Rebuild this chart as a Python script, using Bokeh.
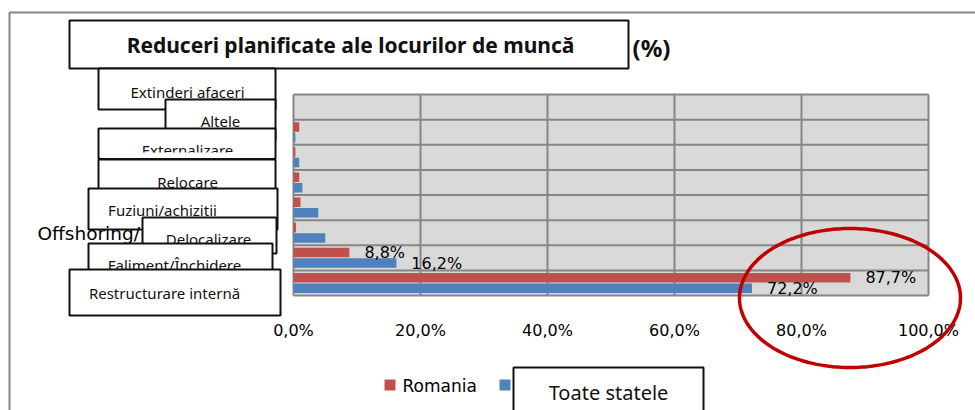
import numpy as np
from bokeh.plotting import figure
from bokeh.models import (Range1d, ColumnDataSource, Label, BoxAnnotation, PolyAnnotation)
from bokeh.transform import dodge
from bokeh.core.properties import value
from bokeh.embed import file_html
from bokeh.resources import INLINE

# ---------------- data ----------------
categories = ["Extinderi afaceri", "Altele", "Externalizare", "Relocare",
              "Fuziuni/achizitii", "Offshoring/Delocalizare", "Faliment/Închidere",
              "Restructurare internă"]
romania = [0.0, 0.9, 0.3, 0.9, 1.1, 0.4, 8.8, 87.7]
toate_statele = [0.0, 0.3, 0.9, 1.4, 3.9, 5.0, 16.2, 72.2]
series_names = ["Romania", "Toate statele"]
tick_values = [0, 20, 40, 60, 80, 100]
tick_labels = ["0,0%", "20,0%", "40,0%", "60,0%", "80,0%", "100,0%"]
title_text = "Reduceri planificate ale locurilor de muncă"
unit_text = "(%)"

# ---------------- style / layout ----------------
RED = "#C0504D"
BLUE = "#4F81BD"
GRID = "#868686"
INK = "#111111"
W, H = 975, 410
PLOT_L, PLOT_R, PLOT_T, PLOT_B = 293, 928, 94, 295   # plot area in canvas px
N = len(categories)
x_px = (PLOT_R - PLOT_L) / (tick_values[-1] - tick_values[0])
row_px = (PLOT_B - PLOT_T) / N

p = figure(width=W, height=H, output_backend="svg", toolbar_location=None,
           x_range=Range1d(tick_values[0] - PLOT_L / x_px, tick_values[-1] + (W - PLOT_R) / x_px),
           y_range=Range1d(-(H - PLOT_B) / row_px, N + PLOT_T / row_px),
           x_axis_location=None, y_axis_location=None, min_border=0)
p.background_fill_color = "white"
p.border_fill_color = "white"
p.outline_line_color = None
p.xgrid.visible = False
p.ygrid.visible = False

# plot area
p.quad(left=tick_values[0], right=tick_values[-1], bottom=0, top=N,
       fill_color="#D9D9D9", line_color=None)
p.segment(x0=tick_values, x1=tick_values, y0=[0] * len(tick_values), y1=[N] * len(tick_values),
          line_color=GRID, line_width=2)
bounds = list(range(0, N + 1))
p.segment(x0=[tick_values[0]] * len(bounds), x1=[tick_values[-1]] * len(bounds),
          y0=bounds, y1=bounds, line_color=GRID, line_width=2)

# axis tick labels
p.text(x=tick_values, y=[0] * len(tick_values), text=tick_labels, y_offset=35,
       text_align="center", text_baseline="middle",
       text_font=value("DejaVu Sans"), text_font_size="16px", text_color="black")

# bars
ycenter = [N - i - 0.5 for i in range(N)]
src = ColumnDataSource(dict(cat=categories, yc=ycenter, ro=romania, ts=toate_statele))
p.hbar(y=dodge("yc", 0.21), left=0, right="ro", height=0.38,
       source=src, fill_color=RED, line_color=None)
p.hbar(y=dodge("yc", -0.21), left=0, right="ts", height=0.38,
       source=src, fill_color=BLUE, line_color=None)

def fmt(v):
    return f"{v:.1f}".replace(".", ",") + "%"

for vals, off in ((romania, 0.21), (toate_statele, -0.21)):
    keep = [i for i, v in enumerate(vals) if v >= 8]
    ls = ColumnDataSource(dict(yc=[ycenter[i] for i in keep],
                               v=[vals[i] for i in keep],
                               t=[fmt(vals[i]) for i in keep]))
    p.text(x="v", y=dodge("yc", off), text="t", source=ls,
           x_offset=15, text_baseline="middle", text_align="left",
           text_font=value("DejaVu Sans"), text_font_size="16px", text_color="black")

# ---------------- decorations (canvas pixel positions) ----------------
def box(l, t, r, b, fill="white", line=INK, lw=2):
    p.add_layout(BoxAnnotation(
        left=l, right=r, top=H - t, bottom=H - b,
        left_units="screen", right_units="screen", top_units="screen", bottom_units="screen",
        fill_color=fill, fill_alpha=1 if fill else 0,
        line_color=line, line_width=lw, line_alpha=1 if line else 0))

def text(x, y, s, size, font="Noto Sans", style="normal", align="center", color=INK):
    p.add_layout(Label(x=x, y=H - y, x_units="screen", y_units="screen",
                       text=s, text_font=font, text_font_size=f"{size}px",
                       text_font_style=style, text_align=align, text_baseline="middle",
                       text_color=color))

# outer chart border
box(9, 12, 1200, 600, fill=None, line=GRID, lw=2)

# title
box(69, 20, 628, 68)
text(350, 44, title_text, 21, style="bold")
text(632, 47, unit_text, 24, style="bold", align="left")

# category label boxes (left, top, right, bottom, text x, text y)
box_layout = [
    (98, 68, 275, 109, 187, 91),
    (165, 99, 275, 140, 220, 120),
    (98, 128, 275, 158, 187, 149),
    (98, 159, 275, 200, 187, 181),
    (88, 188, 277, 229, 162, 209),
    (142, 217, 276, 253, 208, 238),
    (88, 243, 272, 290, 174, 264),
    (69, 269, 280, 315, 164, 292),
]
for i, (cat, (l, t, r, b, tx, ty)) in enumerate(zip(categories, box_layout)):
    if cat.startswith("Offshoring/"):
        head, tail = cat.split("/", 1)
        text(37, 233, head + "/", 18.5, font="DejaVu Sans", align="left", color="black")
        label = tail
    else:
        label = cat
    box(l, t, r, b)
    text(tx, ty, label, 15)
    if i == 2:
        box(99.5, 152, 273.5, 157.5, fill="white", line=None)

# legend (key squares + names), partly covered by an overlaid text box
legend_layout = [(384, 402, RED), (499, 517, BLUE)]
for name, (kx, lx, col) in zip(series_names, legend_layout):
    box(kx, 379, kx + 11, 390, fill=col, line=None)
    text(lx, 385, name, 17, font="DejaVu Sans", align="left", color="black")

box(513, 367, 703, 440)
text(608, 392, series_names[1], 20)

# red highlight ellipse
th = np.linspace(0, 2 * np.pi, 241)
ex = 849.5 + 110.5 * np.cos(th)
ey = 297.5 + 69.5 * np.sin(th)
p.add_layout(PolyAnnotation(xs=list(ex), ys=list(H - ey),
                            xs_units="screen", ys_units="screen",
                            fill_color=None, fill_alpha=0,
                            line_color="#C00000", line_alpha=1, line_width=3.5))

open("out.html", "w").write(file_html(p, INLINE))
